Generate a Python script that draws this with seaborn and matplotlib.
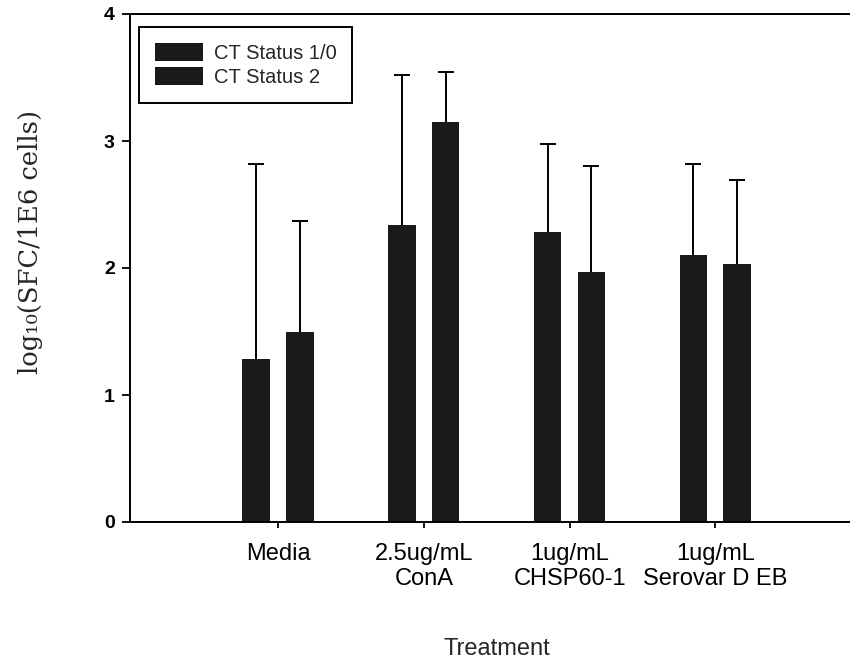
import matplotlib
matplotlib.use("Agg")
import matplotlib.pyplot as plt
import seaborn as sns
import pandas as pd

categories = ["Media", "2.5ug/mL\nConA", "1ug/mL\nCHSP60-1", "1ug/mL\nSerovar D EB"]
series_names = ["CT Status 1/0", "CT Status 2"]
status10_mean = [1.28, 2.34, 2.28, 2.10]
status10_upper = [2.82, 3.52, 2.98, 2.82]
status2_mean = [1.50, 3.15, 1.97, 2.03]
status2_upper = [2.37, 3.54, 2.80, 2.69]

df = pd.DataFrame({
    "Treatment": categories * 2,
    "Status": [series_names[0]] * 4 + [series_names[1]] * 4,
    "value": status10_mean + status2_mean,
    "upper": status10_upper + status2_upper,
})

sns.set_style("ticks")
plt.rcParams["font.family"] = ["Liberation Sans", "DejaVu Sans"]

fig = plt.figure(figsize=(8.5, 6.61), dpi=100)
ax = fig.add_axes([130 / 850, 139 / 661, 734 / 850, 508 / 661])

bar_color = "#1a1a1a"
sns.barplot(data=df, x="Treatment", y="value", hue="Status", hue_order=series_names,
            order=categories, palette=[bar_color, bar_color], width=0.6, gap=0.37,
            errorbar=None, ax=ax, saturation=1, edgecolor=bar_color, linewidth=0)
for cont in ax.containers:
    for p in cont.patches:
        p.set_zorder(2)

# error bars (upper only), placed at the bar centres seaborn computed
for cont, name in zip(ax.containers, series_names):
    sub = df[df["Status"] == name].set_index("Treatment").loc[categories]
    xs = [p.get_x() + p.get_width() / 2 for p in cont.patches]
    eb = ax.errorbar(xs, sub["value"], yerr=[[0] * 4, list(sub["upper"] - sub["value"])],
                     fmt="none", ecolor="black", elinewidth=1.4, capsize=5.8, capthick=1.4,
                     zorder=1)
    caps = eb.lines[1]
    if len(caps) == 2:
        caps[0].set_visible(False)

ax.set_ylim(0, 4)
ax.set_xlim(-1.016, 4.02)
ax.set_yticks([0, 1, 2, 3, 4])
ax.set_yticklabels(["0", "1", "2", "3", "4"], fontweight="bold", fontsize=14)
ax.tick_params(axis="y", length=6, width=1.3, pad=5, colors="black")
ax.tick_params(axis="x", length=4, width=1.3, pad=11, labelsize=17, colors="black")

for s in ["left", "bottom", "top", "right"]:
    ax.spines[s].set_visible(True)
    ax.spines[s].set_linewidth(1.4)
    ax.spines[s].set_color("black")

ax.set_xlabel("Treatment", fontsize=17)
ax.xaxis.set_label_coords(0.5, -0.228)
ax.set_ylabel("log\u2081\u2080(SFC/1E6 cells)", fontsize=18.5,
              family=["DejaVu Serif"])
ax.yaxis.set_label_coords(-0.119, 0.551)

leg = ax.legend(loc="upper left", bbox_to_anchor=(9 / 734, 1 - 13 / 508), fontsize=14.5,
                frameon=True, fancybox=False, edgecolor="black", framealpha=1,
                handlelength=2.4, handleheight=1.0, labelspacing=0.2,
                handletextpad=0.5, borderpad=0.8, borderaxespad=0)
leg.get_frame().set_linewidth(1.4)

fig.savefig("out.png", dpi=100)
